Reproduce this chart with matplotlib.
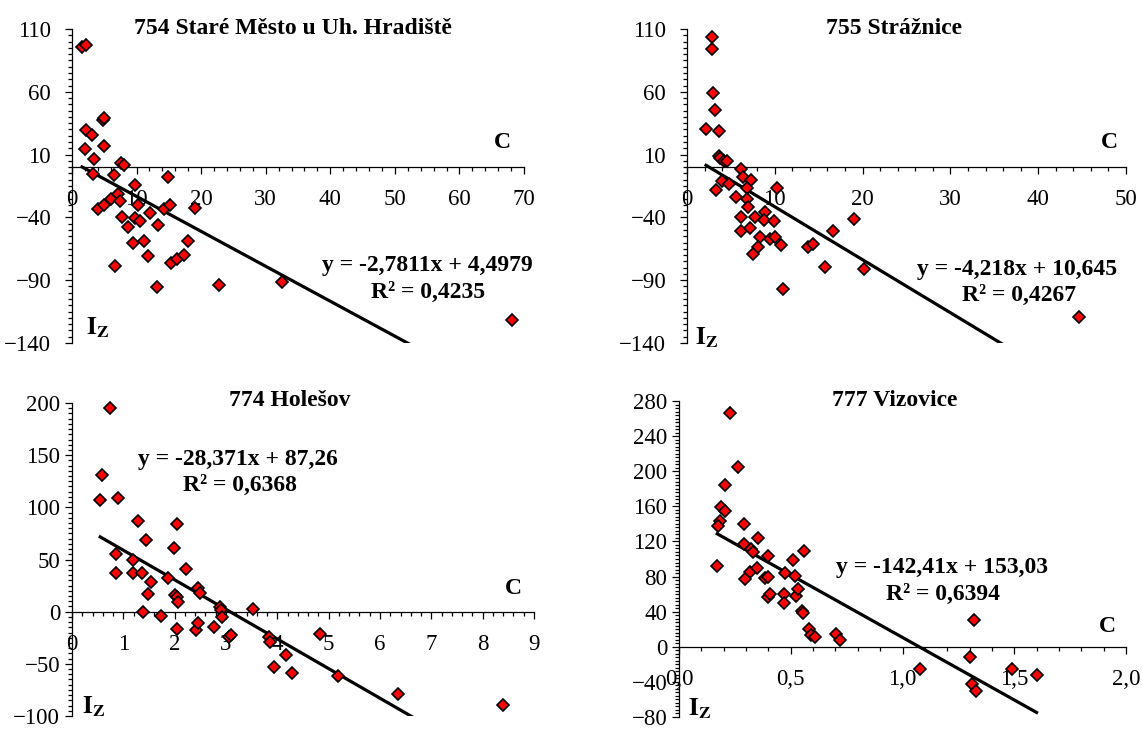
import numpy as np
import matplotlib.pyplot as plt
from matplotlib.ticker import MultipleLocator, FuncFormatter

plt.rcParams['font.family'] = 'Liberation Serif'
plt.rcParams['mathtext.fontset'] = 'stix'

W, H = 1142, 729

# 754 Staré Město u Uh. Hradiště
c_754 = [1.55, 2.17, 4.75, 5.0, 2.2, 3.1, 2.06, 4.9, 3.35, 7.6, 8.0, 3.2, 6.45, 14.8,
         9.8, 4.0, 4.9, 6.1, 7.1, 7.5, 10.2, 9.8, 10.6, 7.7, 8.7, 12.1, 13.3, 14.2,
         15.1, 19.1, 9.4, 11.1, 11.8, 18.0, 15.4, 16.2, 17.3, 6.7, 13.1, 22.7, 32.5, 68.1]
iz_754 = [95.5, 97.4, 37.2, 39.0, 29.2, 25.7, 14.3, 17.2, 6.6, 3.2, 2.1, -5.3, -6.6, -8.0,
          -14.6, -33.2, -30.5, -25.7, -21.2, -27.0, -30.5, -40.3, -43.0, -39.8, -47.8, -36.6,
          -45.9, -33.2, -30.0, -32.4, -60.5, -58.9, -70.9, -58.9, -76.4, -73.0, -69.8, -78.3,
          -95.5, -93.7, -91.7, -122.0]

# 755 Strážnice
c_755 = [2.85, 2.85, 2.93, 3.16, 2.17, 3.6, 3.6, 3.8, 4.26, 4.56, 6.1, 6.4, 7.3, 4.0,
         4.75, 3.35, 6.84, 10.3, 5.6, 6.8, 6.96, 8.86, 6.1, 7.7, 8.8, 9.96, 6.1, 7.2,
         8.3, 9.4, 10.0, 10.7, 8.1, 7.5, 13.8, 14.3, 10.9, 16.6, 15.7, 19.0, 20.2, 44.6]
iz_755 = [103.5, 94.2, 59.2, 45.9, 30.0, 28.7, 8.8, 7.4, 5.3, 4.8, -1.1, -8.0, -10.4, -11.1,
          -13.3, -18.3, -16.5, -16.5, -23.6, -25.2, -31.8, -35.8, -39.8, -39.8, -41.7, -43.0,
          -51.0, -48.8, -55.5, -57.0, -55.5, -61.6, -63.4, -69.5, -63.4, -60.8, -97.4, -50.6,
          -79.5, -41.6, -80.8, -119.4]

# 774 Holešov
c_774 = [0.74, 0.59, 0.55, 0.89, 1.28, 2.04, 1.45, 1.99, 0.85, 1.18, 0.85, 1.19, 1.37,
         1.53, 2.23, 1.87, 1.48, 2.0, 2.05, 2.07, 2.45, 2.49, 1.39, 1.74, 2.88, 2.91, 2.93,
         3.52, 2.04, 2.42, 2.45, 2.77, 3.06, 3.1, 3.84, 3.86, 3.93, 4.17, 4.28, 4.83, 5.19,
         6.36, 8.4]
iz_774 = [195, 130.6, 107.3, 108.9, 86.6, 84.4, 69.1, 61.5, 55.7, 49.4, 36.6, 36.6, 36.6,
          28.7, 40.8, 32.5, 16.9, 15.9, 14.3, 9.6, 22.3, 17.5, 0.0, -3.8, 4.8, 1.6, -4.8,
          2.2, -16.9, -17.5, -11.1, -15.0, -23.9, -22.3, -23.9, -28.7, -53.2, -42.0, -58.9,
          -21.3, -62.0, -78.6, -89.8]

# 777 Vizovice
c_777 = [0.226, 0.263, 0.204, 0.189, 0.205, 0.183, 0.174, 0.293, 0.171, 0.293, 0.32, 0.33,
         0.353, 0.397, 0.509, 0.558, 0.317, 0.295, 0.35, 0.384, 0.399, 0.473, 0.518, 0.399,
         0.406, 0.469, 0.469, 0.524, 0.533, 0.551, 0.555, 0.58, 0.591, 0.61, 0.704, 0.722,
         1.318, 1.302, 1.079, 1.49, 1.6, 1.31, 1.33]
iz_777 = [266, 205, 184.7, 159.5, 155, 143.7, 137.3, 140, 92.2, 117.4, 111, 108, 123.8,
          103.5, 99.3, 108.7, 85.4, 77.1, 89.2, 77.9, 79, 83.5, 80.5, 57.2, 60.2, 60.2,
          49.7, 57.9, 65.8, 40.3, 38.4, 20.7, 13.9, 10.9, 14.7, 8.2, 30.8, -11.7, -24.8,
          -24.8, -32, -42.5, -50.8]

titles = ['754 Staré Město u Uh. Hradiště', '755 Strážnice', '774 Holešov', '777 Vizovice']
equations = ['y = -2,7811x + 4,4979', 'y = -4,218x + 10,645',
             'y = -28,371x + 87,26', 'y = -142,41x + 153,03']
r2_labels = ['R² = 0,4235', 'R² = 0,4267', 'R² = 0,6368', 'R² = 0,6394']
slopes = [-2.7811, -4.218, -28.371, -142.41]
intercepts = [4.4979, 10.645, 87.26, 153.03]


def fpos(x, y):
    return x / W, 1 - y / H


def panel(rect, cx, iz, slope, icpt, xlim, xmaj, xmin_, ylim, ymaj, ymin_, ypad,
          title, tpos, eq, eqpos, r2, r2pos, cpos, izpos, comma=False):
    l, t, r, b = rect
    ax = fig.add_axes([l / W, 1 - b / H, (r - l) / W, (b - t) / H])
    ax.set_xlim(*xlim)
    ax.set_ylim(*ylim)
    ax.spines['top'].set_visible(False)
    ax.spines['right'].set_visible(False)
    ax.spines['bottom'].set_position(('data', 0))
    for s in ('left', 'bottom'):
        ax.spines[s].set_linewidth(0.9)
    ax.xaxis.set_major_locator(MultipleLocator(xmaj))
    ax.xaxis.set_minor_locator(MultipleLocator(xmin_))
    ax.set_yticks(np.arange(ylim[0], ylim[1] + 0.1, ymaj))
    ax.yaxis.set_minor_locator(MultipleLocator(ymin_))
    if comma:
        ax.xaxis.set_major_formatter(FuncFormatter(lambda v, p: f'{v:.1f}'.replace('.', ',')))
    ax.tick_params(axis='both', which='major', direction='out', length=5, width=0.9,
                   labelsize=16.5)
    ax.tick_params(axis='both', which='minor', direction='out', length=3, width=0.9)
    ax.tick_params(axis='x', which='major', pad=11)
    ax.tick_params(axis='y', which='major', pad=ypad)

    xs = np.array([min(cx), max(cx)])
    ax.plot(xs, slope * xs + icpt, color='black', lw=2.3, zorder=2)
    ax.plot(cx, iz, 'D', ms=6, mfc='#ff0000', mec='black', mew=1.2, zorder=3, clip_on=False)

    fig.text(*fpos(*tpos), title, ha='center', va='center', fontsize=17, fontweight='bold')
    fig.text(*fpos(*eqpos), eq, ha='center', va='center', fontsize=17, fontweight='bold')
    fig.text(*fpos(*r2pos), r2, ha='center', va='center', fontsize=17, fontweight='bold')
    fig.text(*fpos(*cpos), 'C', ha='center', va='center', fontsize=17, fontweight='bold')
    fig.text(*fpos(*izpos), r'$\mathbf{I_Z}$', ha='center', va='center', fontsize=18)
    return ax


fig = plt.figure(figsize=(W / 100, H / 100), dpi=100)

panel((72, 29, 524, 343), c_754, iz_754, slopes[0], intercepts[0], (0, 70), 10, 2,
      (-140, 110), 50, 5, 10, titles[0], (293, 28), equations[0], (427, 265),
      r2_labels[0], (428, 292), (502, 142), (98, 328))
panel((687, 29, 1126, 343), c_755, iz_755, slopes[1], intercepts[1], (0, 50), 10, 2,
      (-140, 110), 50, 5, 10, titles[1], (894, 28), equations[1], (1017, 270),
      r2_labels[1], (1019, 295), (1109, 143), (707, 338))
panel((72, 403, 534, 716), c_774, iz_774, slopes[2], intercepts[2], (0, 9), 1, 0.2,
      (-100, 200), 50, 5, 3.5, titles[2], (290, 401), equations[2], (238, 459),
      r2_labels[2], (240, 485), (513, 589), (94, 707))
panel((679, 401, 1126, 717), c_777, iz_777, slopes[3], intercepts[3], (0, 2), 0.5, 0.1,
      (-80, 280), 40, 4, 3.5, titles[3], (895, 401), equations[3], (942, 568),
      r2_labels[3], (943, 594), (1107, 627), (700, 709), comma=True)

fig.savefig('out.png', dpi=100)
